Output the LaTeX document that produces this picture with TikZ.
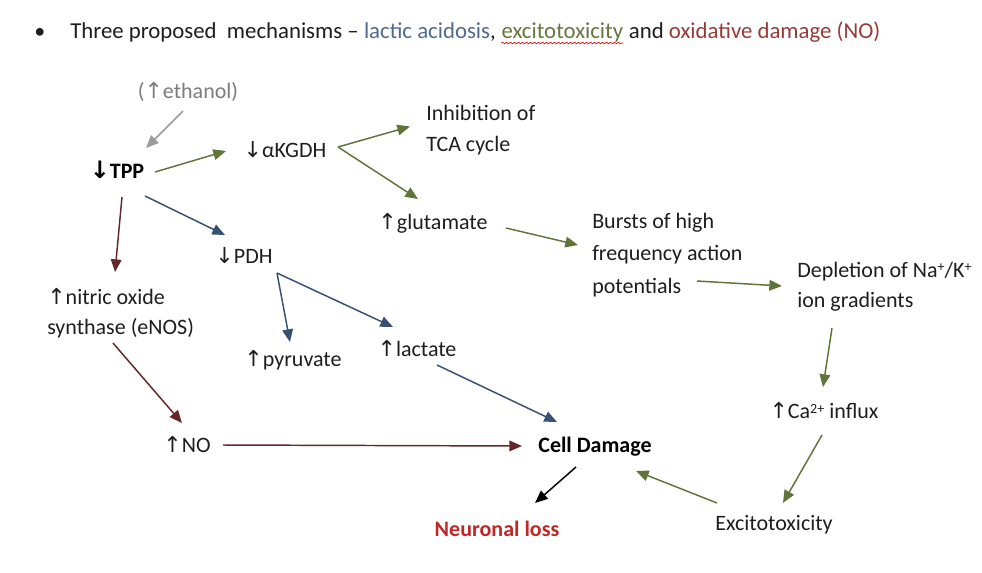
\documentclass[tikz,border=0pt]{standalone}
\usepackage{fontspec}
\setmainfont{Carlito}
\newfontfamily\arrfont{DejaVu Sans}
\usetikzlibrary{arrows.meta,calc,decorations.pathmorphing}
\definecolor{txt}{RGB}{30,30,30}
\definecolor{lacc}{RGB}{80,105,145}
\definecolor{excc}{RGB}{100,120,60}
\definecolor{oxc}{RGB}{150,60,55}
\definecolor{garr}{RGB}{95,117,58}
\definecolor{barr}{RGB}{55,80,115}
\definecolor{rarr}{RGB}{100,40,40}
\definecolor{grayarr}{RGB}{155,155,155}
\definecolor{lossc}{RGB}{192,40,40}
\newcommand{\myup}{{\arrfont\char"2191}}
\newcommand{\mydn}{{\arrfont\char"2193}}
\newcommand{\mysup}[1]{\raisebox{0.55ex}{\fontsize{10.5}{10.5}\selectfont #1}}
\tikzset{
  lbl/.style={inner sep=0pt, text=txt, font=\fontsize{16.5}{24}\selectfont},
  conn/.style={line width=1.1pt, -{Triangle[length=9.5pt,width=8pt]}},
  gconn/.style={conn, draw=garr, fill=garr},
  bconn/.style={conn, draw=barr, fill=barr},
  rconn/.style={conn, draw=rarr, fill=rarr},
  kconn/.style={conn, draw=black, fill=black},
  grconn/.style={conn, draw=grayarr, fill=grayarr},
}
\begin{document}
\begin{tikzpicture}[x=0.75pt,y=-0.75pt]
\useasboundingbox[fill=white] (0,0) rectangle (982,572);
% title
\node[lbl, anchor=base west] (bul) at (34,38) {\textbullet};
\node[lbl, anchor=base west, font=\fontsize{17.1}{24}\selectfont] (t1) at (70,38) {Three proposed\ \ mechanisms -- \textcolor{lacc}{lactic acidosis},};
\node[lbl, anchor=base west, text=excc, font=\fontsize{17.1}{24}\selectfont] (t2) at ([xshift=3.9pt]t1.base east) {excitotoxicity};
\node[lbl, anchor=base west, font=\fontsize{17.1}{24}\selectfont] (t3) at ([xshift=3.9pt]t2.base east) {and \textcolor{oxc}{oxidative damage (NO)}};
\draw[red, line width=0.5pt, decorate, decoration={snake, amplitude=0.6pt, segment length=3pt}] ($(t2.base west)+(0,5)$) -- ($(t2.base east)+(0,5)$);
% nodes
\node[lbl, text=grayarr!80!black] (eth) at (188,92) {(\myup ethanol)};
\node[lbl, font=\fontsize{16.5}{24}\bfseries, text=black] (tpp) at (117,170) {{\fontsize{18}{24}\bfseries\mydn}TPP};
\node[lbl] (kgdh) at (285,150) {\mydn αKGDH};
\node[lbl, anchor=west, align=left, font=\fontsize{16.5}{23.25}\selectfont] (tca) at (426,130) {Inhibition of\\TCA cycle};
\node[lbl] (glu) at (433,223) {\myup glutamate};
\node[lbl, anchor=west, align=left, font=\fontsize{16.5}{24.4}\selectfont] (burst) at (592,255) {Bursts of high\\frequency action\\potentials};
\node[lbl, anchor=west, align=left, font=\fontsize{16.5}{22.5}\selectfont] (depl) at (797,287) {Depletion of Na\mysup{+}/K\mysup{+}\\ion gradients};
\node[lbl] (ca) at (824,411) {\myup Ca\mysup{2+} influx};
\node[lbl] (exc) at (774,525) {Excitotoxicity};
\node[lbl, font=\fontsize{16.5}{24}\bfseries, text=black] (cell) at (595,447) {Cell Damage};
\node[lbl, font=\fontsize{16.5}{24}\bfseries, text=lossc] (loss) at (497,529) {Neuronal loss};
\node[lbl, anchor=west, align=left, font=\fontsize{16.5}{22.5}\selectfont] (nos) at (47,313) {\myup nitric oxide\\synthase (eNOS)};
\node[lbl] (no) at (187,445) {\myup NO};
\node[lbl] (pdh) at (244,256) {\mydn PDH};
\node[lbl] (pyr) at (293,360) {\myup pyruvate};
\node[lbl] (lac) at (417,349) {\myup lactate};
% connectors
\draw[grconn] ($(eth.center)+(-5,19)$) -- ($(tpp.center)+(29,-22)$);
\draw[gconn] ($(tpp.center)+(38,2)$) -- ($(kgdh.center)+(-59,1)$);
\draw[gconn] ($(kgdh.center)+(53,-3)$) -- ($(tca.west)+(-16,-3.5)$);
\draw[gconn] ($(kgdh.center)+(53,-3)$) -- ($(glu.center)+(-15,-24)$);
\draw[gconn] ($(glu.center)+(73,5)$) -- ($(burst.west)+(-14,-10)$);
\draw[gconn] ($(burst.west)+(105,26)$) -- ($(depl.west)+(-15,-1)$);
\draw[gconn] ($(depl.west)+(35,41)$) -- ($(ca.center)+(-1,-24)$);
\draw[gconn] ($(ca.center)+(-2,24)$) -- ($(exc.center)+(9,-22)$);
\draw[gconn] ($(exc.center)+(-57,-22)$) -- ($(cell.center)+(41,24)$);
\draw[kconn] ($(cell.center)+(-19,20)$) -- ($(loss.center)+(38,-26)$);
\draw[rconn] ($(tpp.center)+(5,27)$) -- ($(nos.west)+(68,-41)$);
\draw[rconn] ($(nos.west)+(66,30)$) -- ($(no.center)+(-5,-22)$);
\draw[rconn] ($(no.center)+(36,0)$) -- ($(cell.center)+(-73,-1)$);
\draw[bconn] ($(tpp.center)+(28,26)$) -- ($(pdh.center)+(-19,-21)$);
\draw[bconn] ($(pdh.center)+(33,17)$) -- ($(pyr.center)+(-3,-18)$);
\draw[bconn] ($(pdh.center)+(33,17)$) -- ($(lac.center)+(-24,-22)$);
\draw[bconn] ($(lac.center)+(20,16)$) -- ($(cell.center)+(-38,-25)$);
\end{tikzpicture}
\end{document}
